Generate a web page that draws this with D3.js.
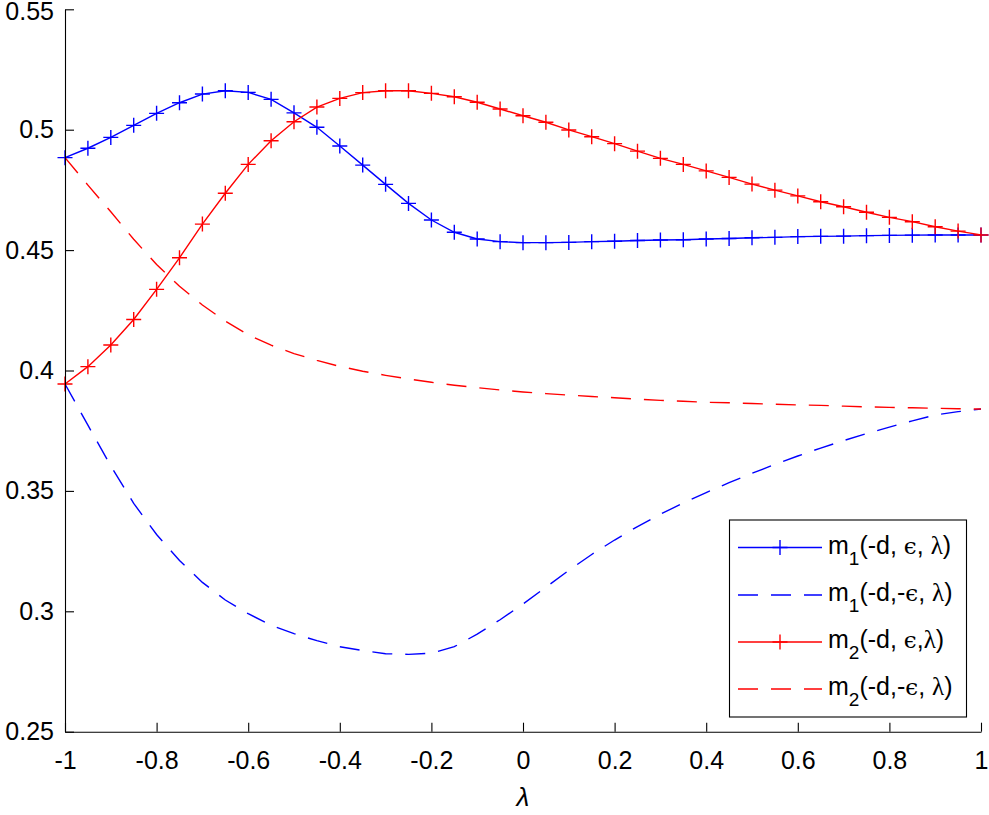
<!DOCTYPE html>
<html>
<head>
<meta charset="utf-8">
<script src="https://cdn.jsdelivr.net/npm/d3@7"></script>
<style>
  html, body { margin: 0; padding: 0; background: #fff; }
  svg { display: block; }
  text { font-family: "Liberation Sans", Arial, Helvetica, sans-serif; }
</style>
</head>
<body>
<svg id="chart" width="989" height="815"></svg>
<script>
// ---- data ----
const lambda = [-1, -0.95, -0.9, -0.85, -0.8, -0.75, -0.7, -0.65, -0.6, -0.55, -0.5,
  -0.45, -0.4, -0.35, -0.3, -0.25, -0.2, -0.15, -0.1, -0.05, 0,
  0.05, 0.1, 0.15, 0.2, 0.25, 0.3, 0.35, 0.4, 0.45, 0.5,
  0.55, 0.6, 0.65, 0.7, 0.75, 0.8, 0.85, 0.9, 0.95, 1];

const m1Pos = [0.4884, 0.4923, 0.4968, 0.5018, 0.5068, 0.5112, 0.5148, 0.5162, 0.5155, 0.5126, 0.5070,
  0.5010, 0.4932, 0.4853, 0.4773, 0.4694, 0.4625, 0.4574, 0.4546, 0.4535, 0.4531,
  0.4531, 0.4532, 0.4535, 0.4537, 0.4540, 0.4542, 0.4543, 0.4546, 0.4548, 0.4551,
  0.4553, 0.4556, 0.4557, 0.4558, 0.4560, 0.4561, 0.4562, 0.4563, 0.4563, 0.4563];

const m1Neg = [0.3944, 0.3773, 0.3604, 0.3448, 0.3319, 0.3211, 0.3120, 0.3047, 0.2990, 0.2942, 0.2907,
  0.2878, 0.2853, 0.2837, 0.2824, 0.2821, 0.2826, 0.2853, 0.2905, 0.2965, 0.3030,
  0.3100, 0.3170, 0.3236, 0.3296, 0.3352, 0.3403, 0.3450, 0.3493, 0.3534, 0.3573,
  0.3610, 0.3645, 0.3678, 0.3709, 0.3738, 0.3765, 0.3791, 0.3815, 0.3829, 0.3840];

const m2Pos = [0.3944, 0.4016, 0.4106, 0.4212, 0.4337, 0.4468, 0.4608, 0.4736, 0.4856, 0.4954, 0.5033,
  0.5094, 0.5130, 0.5154, 0.5162, 0.5162, 0.5151, 0.5137, 0.5114, 0.5086, 0.5058,
  0.5031, 0.4999, 0.4971, 0.4942, 0.4911, 0.4881, 0.4856, 0.4829, 0.4802, 0.4774,
  0.4749, 0.4725, 0.4701, 0.4680, 0.4657, 0.4636, 0.4618, 0.4597, 0.4579, 0.4563];

const m2Neg = [0.4884, 0.4770, 0.4659, 0.4545, 0.4440, 0.4350, 0.4272, 0.4205, 0.4148, 0.4105, 0.4070,
  0.4042, 0.4017, 0.3997, 0.3980, 0.3965, 0.3951, 0.3939, 0.3929, 0.3919, 0.3911,
  0.3904, 0.3898, 0.3892, 0.3887, 0.3881, 0.3876, 0.3872, 0.3868, 0.3866, 0.3863,
  0.3860, 0.3857, 0.3855, 0.3852, 0.3849, 0.3847, 0.3845, 0.3843, 0.3841, 0.3840];

const xTicks = [-1, -0.8, -0.6, -0.4, -0.2, 0, 0.2, 0.4, 0.6, 0.8, 1];
const xTickLabels = ["-1", "-0.8", "-0.6", "-0.4", "-0.2", "0", "0.2", "0.4", "0.6", "0.8", "1"];
const yTicks = [0.25, 0.3, 0.35, 0.4, 0.45, 0.5, 0.55];
const yTickLabels = ["0.25", "0.3", "0.35", "0.4", "0.45", "0.5", "0.55"];

const seriesNames = ["m1Pos", "m1Neg", "m2Pos", "m2Neg"];
const seriesColors = ["#0000ff", "#0000ff", "#ff0000", "#ff0000"];
const seriesDashed = [false, true, false, true];
const seriesMarkers = [true, false, true, false];
const legendSub = ["1", "1", "2", "2"];
const legendParts = [
  ["(-d, ", "ϵ", ", ", "λ", ")"],
  ["(-d,-", "ϵ", ", ", "λ", ")"],
  ["(-d, ", "ϵ", ",", "λ", ")"],
  ["(-d,-", "ϵ", ", ", "λ", ")"]
];

// ---- chart ----
const svg = d3.select("#chart");
const FS = 25;

const x = d3.scaleLinear().domain([-1, 1]).range([65, 981]);
const y = d3.scaleLinear().domain([0.25, 0.55]).range([731.7, 9.3]);

const seriesData = { m1Pos, m1Neg, m2Pos, m2Neg };

const line = d3.line().x((d, i) => x(lambda[i])).y(d => y(d));

const plot = svg.append("g");
seriesNames.forEach((name, k) => {
  const vals = seriesData[name];
  plot.append("path")
    .datum(vals)
    .attr("d", line)
    .attr("fill", "none")
    .attr("stroke", seriesColors[k])
    .attr("stroke-width", 1.4)
    .attr("stroke-dasharray", seriesDashed[k] ? "20,13" : null);
  if (seriesMarkers[k]) {
    const ms = 7.5;
    plot.append("g").selectAll("path")
      .data(vals)
      .join("path")
      .attr("d", (d, i) => {
        const cx = x(lambda[i]), cy = y(d);
        return `M${cx - ms},${cy}H${cx + ms}M${cx},${cy - ms}V${cy + ms}`;
      })
      .attr("stroke", seriesColors[k])
      .attr("stroke-width", 1.4)
      .attr("fill", "none");
  }
});

// axes
const xAxis = d3.axisBottom(x)
  .tickValues(xTicks)
  .tickFormat((d, i) => xTickLabels[i])
  .tickSizeInner(-9)
  .tickSizeOuter(0)
  .tickPadding(20);
const gx = svg.append("g").attr("transform", "translate(0,731.7)").call(xAxis);

const yAxis = d3.axisLeft(y)
  .tickValues(yTicks)
  .tickFormat((d, i) => yTickLabels[i])
  .tickSizeInner(-9)
  .tickSizeOuter(0)
  .tickPadding(11);
const gy = svg.append("g").attr("transform", "translate(65,0)").call(yAxis);

[gx, gy].forEach(g => {
  g.selectAll("text")
    .attr("fill", "#000")
    .style("font-size", FS + "px")
    .style("font-family", '"Liberation Sans", Arial, sans-serif');
  g.selectAll("line").attr("stroke", "#000").attr("stroke-width", 1.1);
  g.select(".domain").attr("stroke", "#000").attr("stroke-width", 1.1);
});
// keep the topmost y label fully inside the picture
gy.selectAll(".tick text").filter(d => d === 0.55).attr("dy", "0.42em");

// x label
svg.append("text")
  .attr("x", x(0))
  .attr("y", 806)
  .attr("text-anchor", "middle")
  .style("font-size", "26px")
  .style("font-style", "italic")
  .attr("fill", "#000")
  .text("λ");

// legend
const lg = svg.append("g");
lg.append("rect")
  .attr("x", 729.5).attr("y", 520)
  .attr("width", 237).attr("height", 197)
  .attr("fill", "#fff")
  .attr("stroke", "#000")
  .attr("stroke-width", 1.1);

const rowY = [547.5, 595, 642, 689];
seriesNames.forEach((name, k) => {
  const ry = rowY[k];
  lg.append("line")
    .attr("x1", 738).attr("x2", 822)
    .attr("y1", ry).attr("y2", ry)
    .attr("stroke", seriesColors[k])
    .attr("stroke-width", 1.4)
    .attr("stroke-dasharray", seriesDashed[k] ? "20,13" : null);
  if (seriesMarkers[k]) {
    lg.append("path")
      .attr("d", `M${780 - 7.5},${ry}H${780 + 7.5}M780,${ry - 7.5}V${ry + 7.5}`)
      .attr("stroke", seriesColors[k])
      .attr("stroke-width", 1.4);
  }
  const t = lg.append("text")
    .attr("x", 828)
    .attr("y", ry + 6)
    .attr("fill", "#000")
    .style("font-size", FS + "px");
  t.append("tspan").text("m");
  t.append("tspan").attr("dy", 11).style("font-size", "19px").text(legendSub[k]);
  const p = legendParts[k];
  t.append("tspan").attr("dy", -11).text(p[0]);
  t.append("tspan").style("font-family", '"DejaVu Serif", serif').style("font-size", "23px").text(p[1]);
  t.append("tspan").text(p[2]);
  t.append("tspan").style("font-family", '"Liberation Serif", serif').style("font-size", "25px").text(p[3]);
  t.append("tspan").text(p[4]);
});
</script>
</body>
</html>
